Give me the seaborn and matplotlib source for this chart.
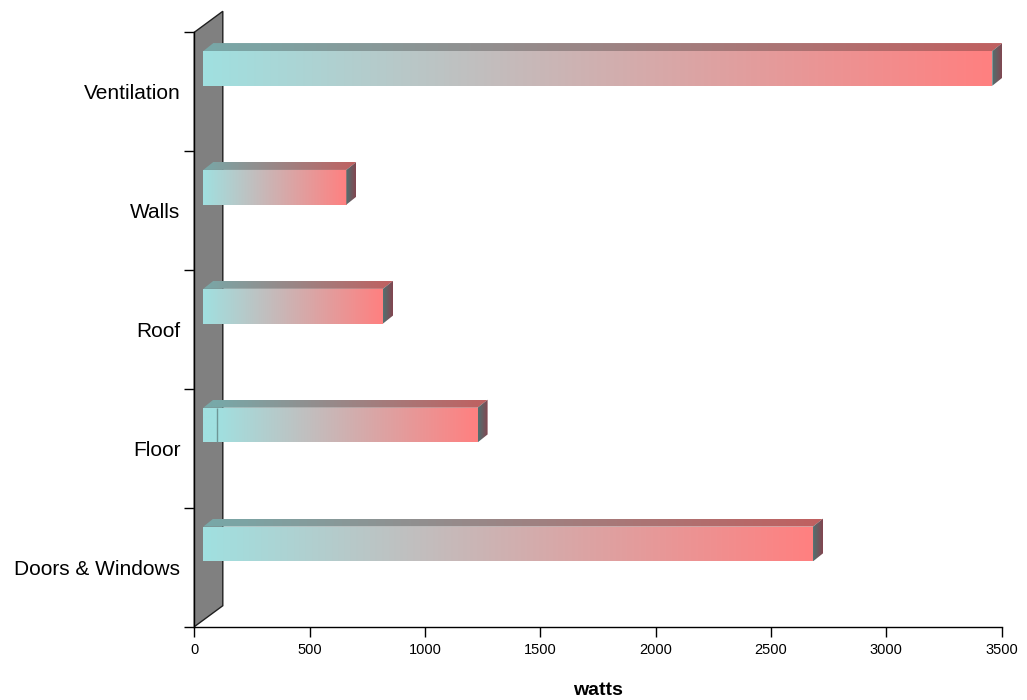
import numpy as np
import matplotlib
matplotlib.use("Agg")
import matplotlib.pyplot as plt
import seaborn as sns
from matplotlib.transforms import Affine2D, IdentityTransform
from matplotlib.patches import Polygon
from matplotlib.colors import LinearSegmentedColormap

# Data (watts)
categories = ["Ventilation", "Walls", "Roof", "Floor", "Doors & Windows"]
base_watts = [0, 0, 0, 59, 0]          # small first segment (only Floor has one)
main_watts = [3420, 620, 779, 1130, 2643]
x_ticks = [0, 500, 1000, 1500, 2000, 2500, 3000, 3500]

totals = [b + m for b, m in zip(base_watts, main_watts)]

sns.set_style("white")
plt.rcParams["font.family"] = ["Liberation Sans", "DejaVu Sans"]
plt.rcParams["text.color"] = "black"
plt.rcParams["xtick.color"] = "black"
plt.rcParams["ytick.color"] = "black"
plt.rcParams["axes.labelcolor"] = "black"

fig = plt.figure(figsize=(10.27, 7), dpi=100)
ax = fig.add_axes([0.1892, 0.1047, 0.7862, 0.8492])

bar_h = 0.292
sns.barplot(x=totals, y=categories, orient="h", width=bar_h, color="#A0E0E0",
            linewidth=0, ax=ax, zorder=3)
ax.set_xlim(0, 3500)
ax.set_ylim(4.5, -0.5)

# fake 3D: bars sit a bit behind the front plane
bar_tr = ax.transData + Affine2D().translate(9, 23.3)
wall_depth = np.array([28.5, 21.0])
bar_depth = np.array([10.0, 8.0])

front_cmap = LinearSegmentedColormap.from_list("front", ["#A0E0E0", "#FF8080"])
top_cmap = LinearSegmentedColormap.from_list("top", ["#78A8A8", "#C06060"])
side_cmap = LinearSegmentedColormap.from_list("side", ["#507070", "#844650"])

# back wall
w0 = ax.transData.transform((0, 4.5))
w1 = ax.transData.transform((0, -0.5))
wall = Polygon([w0, w1, w1 + wall_depth, w0 + wall_depth], closed=True,
               transform=IdentityTransform(), facecolor="#808080",
               edgecolor="#202020", linewidth=1, zorder=1, clip_on=False)
ax.add_patch(wall)

bars = [p for p in ax.patches if p is not wall]

for i, patch in enumerate(bars):
    patch.set_transform(bar_tr)
    patch.set_clip_on(False)
    total = totals[i]
    base = base_watts[i]
    y_top = i - bar_h / 2
    y_bot = i + bar_h / 2

    xs = np.linspace(0, total, 500)
    frac = np.clip((xs - base) / (total - base), 0, 1).reshape(1, -1)

    im = ax.imshow(frac, cmap=front_cmap, vmin=0, vmax=1, aspect="auto",
                   extent=(0, total, y_bot, y_top), transform=bar_tr,
                   interpolation="bilinear", zorder=4)
    im.set_clip_path(patch)

    if base > 0:
        ax.plot([base, base], [y_top, y_bot], color="#6E9696", lw=1,
                transform=bar_tr, zorder=5, solid_capstyle="butt")

    # top face
    p1 = bar_tr.transform((0, y_top))
    p2 = bar_tr.transform((total, y_top))
    top_poly = Polygon([p1, p2, p2 + bar_depth, p1 + bar_depth], closed=True,
                       transform=IdentityTransform(), facecolor="none",
                       edgecolor="none", zorder=4, clip_on=False)
    ax.add_patch(top_poly)
    im_t = ax.imshow(frac, cmap=top_cmap, vmin=0, vmax=1, aspect="auto",
                     extent=(p1[0], p2[0] + bar_depth[0], p1[1], p1[1] + bar_depth[1]),
                     transform=IdentityTransform(), interpolation="bilinear", zorder=4)
    im_t.set_clip_path(top_poly)

    # right end face
    q1 = bar_tr.transform((total, y_bot))
    side_poly = Polygon([q1, p2, p2 + bar_depth, q1 + bar_depth], closed=True,
                        transform=IdentityTransform(), facecolor="none",
                        edgecolor="none", zorder=4, clip_on=False)
    ax.add_patch(side_poly)
    im_s = ax.imshow(np.linspace(0, 1, 50).reshape(1, -1), cmap=side_cmap,
                     vmin=0, vmax=1, aspect="auto",
                     extent=(q1[0], q1[0] + bar_depth[0], q1[1], p2[1] + bar_depth[1]),
                     transform=IdentityTransform(), interpolation="bilinear", zorder=4)
    im_s.set_clip_path(side_poly)

ax.set_xlim(0, 3500)
ax.set_ylim(4.5, -0.5)

# axes styling
for side in ["top", "right"]:
    ax.spines[side].set_visible(False)
for side in ["left", "bottom"]:
    ax.spines[side].set_color("black")
    ax.spines[side].set_linewidth(1)
    ax.spines[side].set_zorder(2)

ax.set_xticks(x_ticks)
ax.set_xticklabels([str(t) for t in x_ticks], fontsize=10.5)
ax.tick_params(axis="x", bottom=True, direction="out", length=7.2, width=1,
               color="black", labelcolor="black", pad=4.5)
ax.set_yticks(range(len(categories)))
ax.set_yticklabels(categories, fontsize=15)
ax.set_yticks(np.arange(-0.5, len(categories)), minor=True)
ax.tick_params(axis="y", which="major", left=True, length=0, pad=10,
               labelcolor="black")
ax.tick_params(axis="y", which="minor", left=True, direction="out", length=7.2,
               width=1, color="black")
ax.set_ylabel("")
ax.set_xlabel("watts", fontsize=14, fontweight="bold", labelpad=18, color="black")
ax.grid(False)

fig.savefig("out.png", dpi=100)
